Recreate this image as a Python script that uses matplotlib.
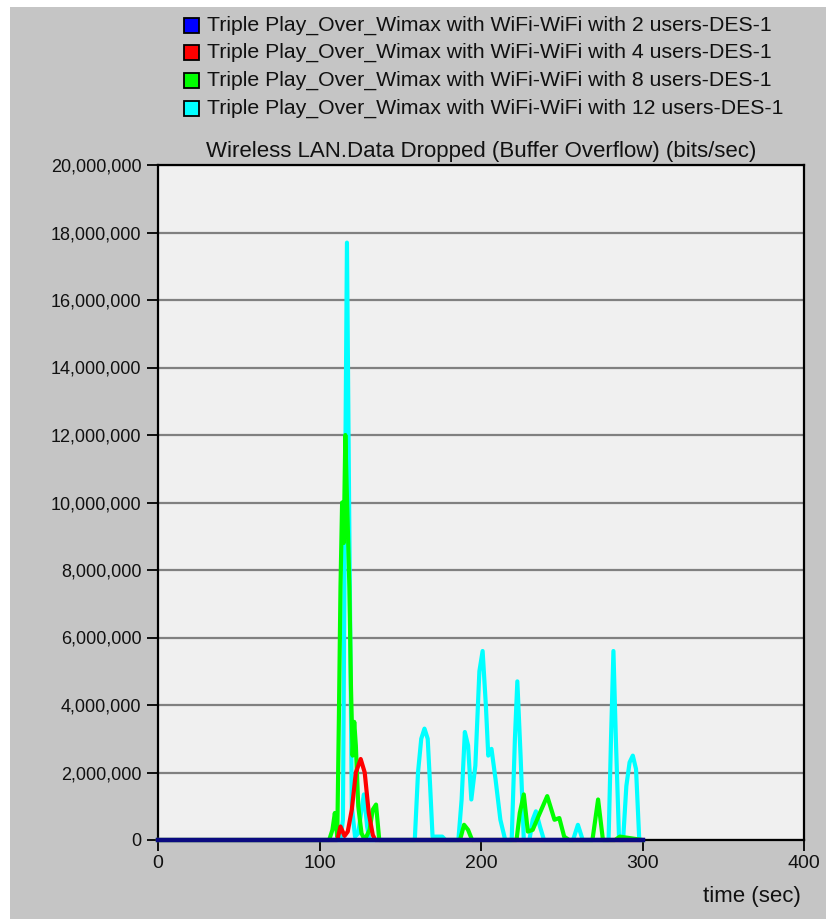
import matplotlib.pyplot as plt
from matplotlib.patches import Rectangle
from matplotlib.ticker import FuncFormatter
import numpy as np

# Wireless LAN data dropped (Mbit/s) per scenario, sampled over simulation time
title = 'Wireless LAN.Data Dropped (Buffer Overflow) (bits/sec)'
labels = ['Triple Play_Over_Wimax with WiFi-WiFi with 2 users-DES-1',
          'Triple Play_Over_Wimax with WiFi-WiFi with 4 users-DES-1',
          'Triple Play_Over_Wimax with WiFi-WiFi with 8 users-DES-1',
          'Triple Play_Over_Wimax with WiFi-WiFi with 12 users-DES-1']
colors = ['#0000ff', '#ff0000', '#00ff00', '#00ffff']

t_2users = [0, 300]
v_2users = [0, 0]

t_4users = [0, 111, 113, 115.5, 117.5, 120, 122.5, 125.5, 128, 130.5, 133, 134.5, 300]
v_4users = [0, 0, 0.4, 0.12, 0.25, 0.9, 2.0, 2.4, 2.0, 0.8, 0.15, 0, 0]

t_8users = [0, 106, 108, 109.5, 111, 112, 113, 114, 115, 116, 116.8, 117.5, 118.5, 119.5,
            120.5, 121.5, 122.5, 124, 126, 128, 131, 133, 135, 137, 187, 189.5, 192, 194.5,
            222, 224, 226.5, 229, 232, 236, 241, 245.5, 248.5, 251.5, 254.5, 269, 272.5, 275.5,
            283, 286, 300]
v_8users = [0, 0, 0.3, 0.8, 0.1, 3.6, 7.5, 10.0, 8.8, 12.0, 10.5, 9.3, 7.5, 4.5,
            2.5, 3.5, 2.8, 1.0, 0.2, 0, 0.3, 0.9, 1.05, 0, 0, 0.45, 0.3, 0,
            0, 0.8, 1.35, 0.25, 0.3, 0.75, 1.3, 0.6, 0.65, 0.1, 0, 0, 1.2, 0,
            0, 0.1, 0]

t_12users = [0, 113, 114.5, 115.5, 117, 118.5, 120, 122, 124, 126, 127.5, 129.5, 131,
             159, 161, 163, 165, 167, 168.5, 170, 176, 178, 186, 188, 190, 192, 194,
             196.5, 199, 201, 203, 204.5, 206.5, 209, 212, 215, 219, 221, 222.5, 224.5, 226.5,
             230, 232, 234, 236.5, 239, 257, 260, 263, 279, 280.5, 282, 283.5, 285.5, 288,
             290, 292, 294, 296, 298, 300]
v_12users = [0, 0, 0.6, 8.0, 17.7, 9.0, 1.0, 0.1, 0.2, 0.9, 1.35, 0.4, 0,
             0, 2.0, 3.0, 3.3, 3.0, 1.6, 0.1, 0.1, 0, 0, 1.2, 3.2, 2.8, 1.2,
             2.2, 5.0, 5.6, 4.0, 2.5, 2.7, 1.8, 0.6, 0, 0, 3.0, 4.7, 2.5, 0,
             0, 0.6, 0.85, 0.4, 0, 0, 0.45, 0, 0, 3.0, 5.6, 3.0, 0, 0,
             1.6, 2.3, 2.5, 2.1, 0, 0]

series = [(t_2users, v_2users), (t_4users, v_4users), (t_8users, v_8users), (t_12users, v_12users)]

plt.rcParams['font.family'] = ['Liberation Sans', 'DejaVu Sans']

fig = plt.figure(figsize=(8.26, 9.19), dpi=100)
fig.patch.set_facecolor('white')
# grey panel behind everything, leaving a thin white margin top/left
fig.patches.append(Rectangle((10 / 826, 0), 1, 1 - 7 / 919, transform=fig.transFigure,
                             facecolor='#c5c5c5', edgecolor='none', zorder=-10))

ax = fig.add_axes([158 / 826, 1 - 840 / 919, (804 - 158) / 826, (840 - 165) / 919])
ax.set_facecolor('#f0f0f0')

for i in [3, 2, 1]:
    t, v = series[i]
    ax.plot(t, np.array(v) * 1e6, color=colors[i], lw=3.0, zorder=3,
            solid_joinstyle='round', clip_on=False)
# the 2-user series sits on the zero line and reads dark over the axis
ax.plot(t_2users, np.array(v_2users) * 1e6, color='#0a0a80', lw=3.2, zorder=6, clip_on=False)

ax.set_xlim(0, 400)
ax.set_ylim(0, 20e6)
ax.set_xticks([0, 100, 200, 300, 400])
ax.set_yticks(np.arange(0, 20e6 + 1, 2e6))
ax.yaxis.set_major_formatter(FuncFormatter(lambda y, p: f'{int(y):,}'))
ax.grid(axis='y', color='#808080', lw=1.6)
ax.set_axisbelow(True)
for s in ax.spines.values():
    s.set_color('black')
    s.set_linewidth(1.6)
ax.tick_params(direction='out', length=8, width=1.3, colors='black', pad=3,
               labelcolor='#111111')
ax.tick_params(axis='y', labelsize=13, pad=4)
ax.tick_params(axis='x', labelsize=14)

ax.set_title(title, fontsize=16, pad=6, color='#111111')
ax.text(0.995, -0.083, 'time (sec)', transform=ax.transAxes, ha='right', va='center',
        fontsize=16, color='#111111')

# legend rows at the top of the figure
for k, lab in enumerate(labels):
    y = 1 - (25 + 27.7 * k) / 919
    fig.patches.append(Rectangle((184 / 826, y - 7.5 / 919), 15 / 826, 15 / 919,
                                 transform=fig.transFigure, facecolor=colors[k],
                                 edgecolor='black', lw=1.3))
    fig.text(207 / 826, y, lab, ha='left', va='center', fontsize=15.3, color='#111111')

fig.savefig('out.png', dpi=100)
